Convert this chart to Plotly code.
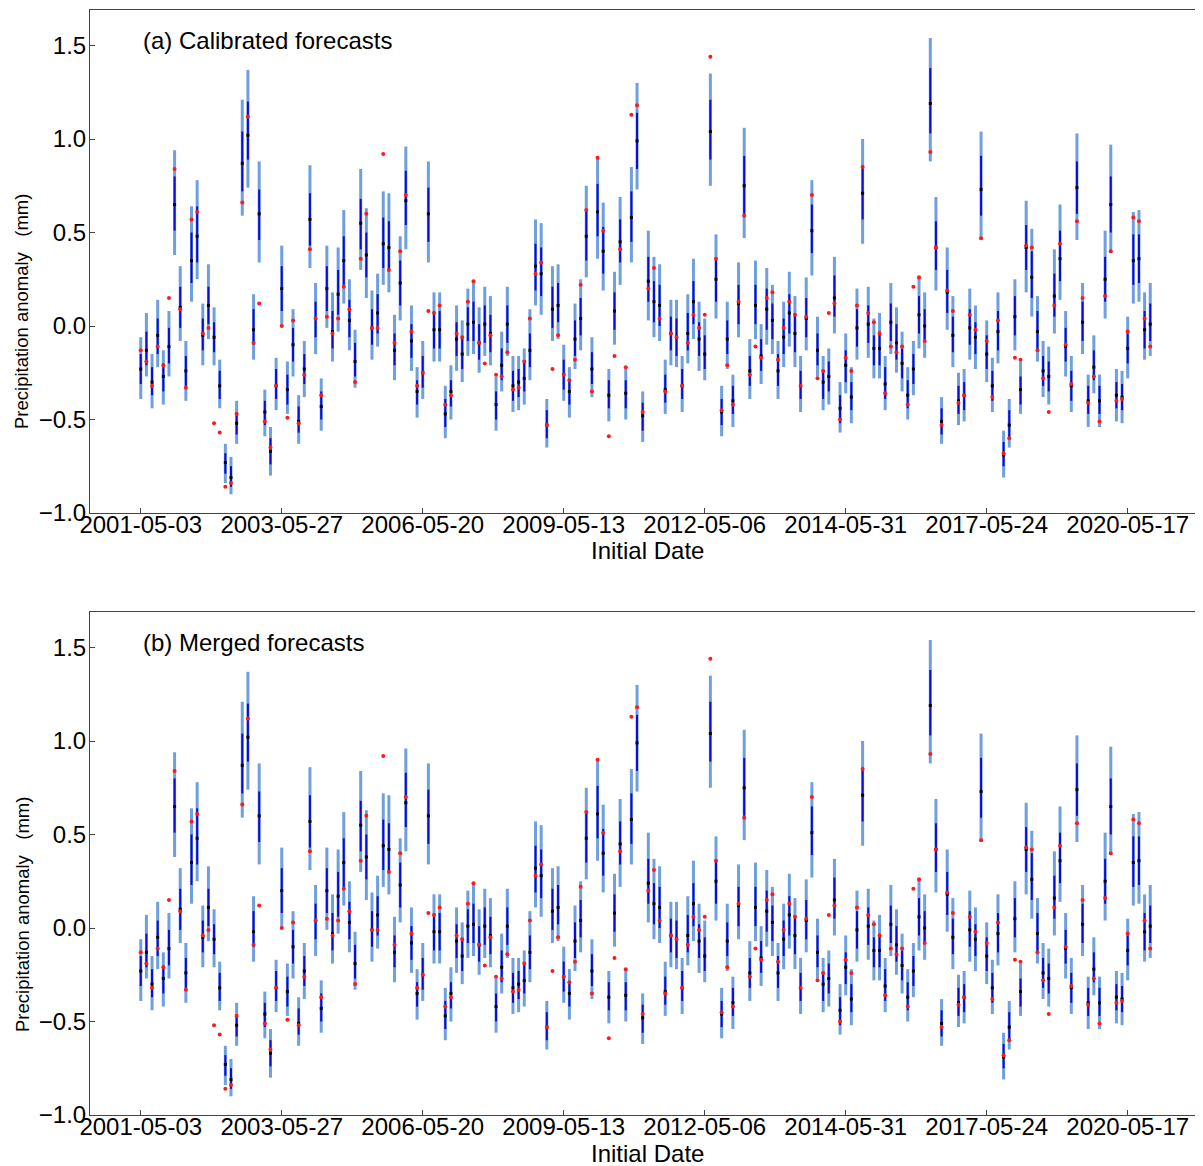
import plotly.graph_objects as go

# ---------------- data ----------------
years = list(range(2001, 2021))
month_days = ["05-03", "05-06", "05-10", "05-13", "05-17", "05-20", "05-24", "05-27", "05-31"]
tick_labels = ["2001-05-03", "2003-05-27", "2006-05-20", "2009-05-13",
               "2012-05-06", "2014-05-31", "2017-05-24", "2020-05-17"]

outer_high = [
    -0.06, 0.07, -0.15, 0.14, -0.13, 0.08, 0.94, 0.32, -0.08, 0.64,
    0.78, 0.12, 0.33, 0.10, -0.18, -0.63, -0.70, -0.40, 1.21, 1.37,
    0.17, 0.88, -0.34, -0.54, -0.17, 0.43, -0.19, 0.09, -0.37, -0.08,
    0.86, 0.23, -0.28, 0.43, 0.18, 0.42, 0.62, 0.25, -0.02, 0.84,
    0.63, 0.19, 0.28, 0.72, 0.71, 0.06, 0.48, 0.96, 0.11, -0.22,
    -0.08, 0.88, 0.18, 0.18, -0.32, -0.21, 0.11, 0.03, 0.20, 0.24,
    0.10, 0.21, 0.16, -0.27, -0.03, 0.21, -0.16, -0.16, -0.12, 0.09,
    0.57, 0.55, -0.39, 0.32, 0.33, -0.10, -0.22, 0.12, 0.25, 0.75,
    -0.06, 0.90, 0.66, -0.23, 0.29, 0.69, -0.22, 0.85, 1.30, -0.35,
    0.51, 0.37, 0.33, -0.18, 0.14, 0.14, -0.16, 0.17, 0.36, 0.13,
    0.04, 1.35, 0.49, -0.32, 0.13, -0.26, 0.34, 1.06, -0.07, 0.35,
    0.01, 0.31, 0.22, -0.08, 0.13, 0.29, 0.16, -0.16, 0.26, 0.78,
    0.05, -0.16, -0.12, 0.37, -0.30, -0.04, -0.22, 0.20, 1.00, 0.21,
    0.04, 0.07, -0.16, 0.23, 0.10, -0.03, -0.22, -0.08, 0.27, 0.18,
    1.54, 0.69, -0.38, 0.42, 0.16, -0.25, -0.23, 0.20, 0.11, 1.04,
    0.03, -0.17, 0.18, -0.56, -0.39, 0.25, -0.19, 0.67, 0.52, 0.16,
    -0.08, -0.11, 0.41, 0.65, 0.08, -0.16, 1.03, 0.23, -0.26, -0.05,
    -0.26, 0.51, 0.97, -0.23, -0.24, 0.05, 0.61, 0.62, 0.18, 0.23,
]

inner_high = [
    -0.15, -0.03, -0.22, 0.04, -0.20, -0.01, 0.80, 0.21, -0.16, 0.50,
    0.64, 0.04, 0.21, 0.02, -0.24, -0.68, -0.75, -0.46, 1.04, 1.20,
    0.09, 0.73, -0.40, -0.60, -0.23, 0.32, -0.26, -0.01, -0.43, -0.15,
    0.71, 0.13, -0.35, 0.32, 0.08, 0.30, 0.48, 0.14, -0.09, 0.68,
    0.50, 0.09, 0.17, 0.58, 0.56, -0.04, 0.35, 0.83, 0.01, -0.29,
    -0.16, 0.74, 0.08, 0.08, -0.39, -0.29, 0.02, -0.06, 0.10, 0.13,
    0.01, 0.11, 0.06, -0.35, -0.12, 0.11, -0.24, -0.23, -0.19, -0.04,
    0.44, 0.42, -0.45, 0.21, 0.23, -0.18, -0.29, 0.03, 0.15, 0.62,
    -0.14, 0.76, 0.53, -0.29, 0.18, 0.57, -0.29, 0.72, 1.14, -0.41,
    0.37, 0.24, 0.22, -0.26, 0.05, 0.04, -0.23, 0.07, 0.24, 0.02,
    -0.05, 1.21, 0.36, -0.39, 0.03, -0.32, 0.22, 0.91, -0.16, 0.22,
    -0.07, 0.20, 0.12, -0.15, 0.04, 0.17, 0.06, -0.24, 0.15, 0.65,
    -0.04, -0.24, -0.19, 0.27, -0.37, -0.13, -0.30, 0.09, 0.86, 0.11,
    -0.05, -0.03, -0.22, 0.12, 0.01, -0.12, -0.29, -0.15, 0.16, 0.09,
    1.38, 0.56, -0.44, 0.30, 0.05, -0.32, -0.30, 0.09, 0.02, 0.91,
    -0.05, -0.24, 0.08, -0.62, -0.45, 0.16, -0.27, 0.54, 0.40, 0.08,
    -0.16, -0.19, 0.28, 0.51, -0.01, -0.24, 0.88, 0.13, -0.32, -0.13,
    -0.32, 0.37, 0.80, -0.30, -0.31, -0.04, 0.49, 0.49, 0.08, 0.12,
]

median = [
    -0.23, -0.13, -0.30, -0.05, -0.27, -0.11, 0.65, 0.10, -0.24, 0.35,
    0.48, -0.05, 0.11, -0.06, -0.32, -0.73, -0.81, -0.52, 0.87, 1.02,
    -0.02, 0.60, -0.46, -0.67, -0.32, 0.20, -0.34, -0.10, -0.51, -0.23,
    0.57, 0.04, -0.43, 0.20, -0.03, 0.17, 0.35, 0.03, -0.19, 0.55,
    0.38, -0.01, 0.07, 0.44, 0.42, -0.13, 0.23, 0.67, -0.08, -0.35,
    -0.25, 0.60, -0.02, -0.02, -0.47, -0.35, -0.07, -0.15, 0.01, 0.02,
    -0.09, 0.01, -0.04, -0.42, -0.21, 0.01, -0.32, -0.30, -0.28, -0.13,
    0.32, 0.28, -0.53, 0.09, 0.11, -0.26, -0.35, -0.07, 0.04, 0.48,
    -0.23, 0.61, 0.40, -0.37, 0.08, 0.45, -0.36, 0.58, 0.99, -0.48,
    0.24, 0.13, 0.11, -0.34, -0.04, -0.06, -0.32, -0.04, 0.13, -0.07,
    -0.15, 1.04, 0.25, -0.46, -0.07, -0.40, 0.12, 0.75, -0.24, 0.11,
    -0.16, 0.09, 0.03, -0.24, -0.06, 0.07, -0.04, -0.32, 0.04, 0.51,
    -0.13, -0.30, -0.27, 0.15, -0.44, -0.21, -0.38, -0.01, 0.71, 0.01,
    -0.12, -0.12, -0.31, 0.02, -0.09, -0.20, -0.37, -0.23, 0.06, 0.00,
    1.19, 0.42, -0.51, 0.18, -0.05, -0.40, -0.37, -0.01, -0.06, 0.73,
    -0.15, -0.32, -0.03, -0.69, -0.53, 0.05, -0.34, 0.42, 0.26, -0.03,
    -0.24, -0.27, 0.16, 0.36, -0.11, -0.32, 0.74, 0.02, -0.40, -0.22,
    -0.40, 0.25, 0.65, -0.37, -0.38, -0.12, 0.35, 0.36, -0.02, 0.01,
]

inner_low = [
    -0.31, -0.21, -0.37, -0.15, -0.35, -0.20, 0.51, -0.01, -0.32, 0.23,
    0.34, -0.13, 0.01, -0.14, -0.39, -0.79, -0.86, -0.58, 0.72, 0.89,
    -0.10, 0.46, -0.53, -0.74, -0.39, 0.08, -0.42, -0.19, -0.57, -0.31,
    0.43, -0.06, -0.50, 0.08, -0.12, 0.06, 0.22, -0.06, -0.27, 0.41,
    0.26, -0.10, -0.04, 0.31, 0.30, -0.21, 0.11, 0.54, -0.17, -0.42,
    -0.33, 0.45, -0.12, -0.12, -0.54, -0.43, -0.16, -0.23, -0.08, -0.08,
    -0.18, -0.09, -0.14, -0.50, -0.29, -0.09, -0.40, -0.38, -0.35, -0.22,
    0.19, 0.16, -0.60, -0.01, 0.02, -0.34, -0.42, -0.16, -0.05, 0.35,
    -0.31, 0.48, 0.28, -0.44, -0.02, 0.34, -0.44, 0.45, 0.84, -0.56,
    0.13, 0.02, 0.00, -0.41, -0.13, -0.16, -0.39, -0.13, 0.01, -0.16,
    -0.23, 0.89, 0.13, -0.53, -0.15, -0.47, 0.01, 0.60, -0.32, 0.01,
    -0.24, -0.02, -0.07, -0.32, -0.15, -0.04, -0.14, -0.39, -0.06, 0.39,
    -0.21, -0.39, -0.35, 0.05, -0.52, -0.30, -0.45, -0.11, 0.57, -0.09,
    -0.21, -0.21, -0.39, -0.08, -0.18, -0.28, -0.44, -0.31, -0.04, -0.08,
    1.03, 0.30, -0.58, 0.07, -0.14, -0.47, -0.45, -0.10, -0.15, 0.59,
    -0.23, -0.40, -0.13, -0.75, -0.60, -0.05, -0.42, 0.30, 0.15, -0.13,
    -0.32, -0.35, 0.05, 0.24, -0.19, -0.40, 0.60, -0.08, -0.47, -0.29,
    -0.47, 0.13, 0.50, -0.44, -0.45, -0.20, 0.22, 0.23, -0.12, -0.08,
]

outer_low = [
    -0.39, -0.27, -0.44, -0.22, -0.42, -0.27, 0.38, -0.08, -0.40, 0.13,
    0.25, -0.21, -0.07, -0.21, -0.44, -0.84, -0.90, -0.63, 0.59, 0.74,
    -0.18, 0.34, -0.59, -0.80, -0.45, 0.00, -0.47, -0.27, -0.63, -0.38,
    0.31, -0.15, -0.56, -0.01, -0.19, -0.03, 0.12, -0.13, -0.33, 0.30,
    0.15, -0.18, -0.11, 0.22, 0.18, -0.29, 0.03, 0.41, -0.24, -0.49,
    -0.39, 0.34, -0.19, -0.19, -0.60, -0.50, -0.24, -0.30, -0.16, -0.15,
    -0.25, -0.16, -0.21, -0.56, -0.35, -0.16, -0.46, -0.45, -0.42, -0.29,
    0.11, 0.06, -0.65, -0.08, -0.07, -0.40, -0.49, -0.23, -0.13, 0.26,
    -0.38, 0.36, 0.19, -0.51, -0.10, 0.22, -0.50, 0.34, 0.73, -0.62,
    0.03, -0.06, -0.08, -0.47, -0.21, -0.22, -0.46, -0.20, -0.07, -0.24,
    -0.29, 0.75, 0.04, -0.59, -0.23, -0.54, -0.06, 0.47, -0.39, -0.07,
    -0.31, -0.10, -0.15, -0.39, -0.22, -0.11, -0.22, -0.46, -0.13, 0.27,
    -0.27, -0.45, -0.42, -0.04, -0.57, -0.36, -0.52, -0.18, 0.44, -0.17,
    -0.28, -0.28, -0.45, -0.15, -0.25, -0.35, -0.50, -0.37, -0.12, -0.17,
    0.88, 0.19, -0.63, -0.02, -0.22, -0.53, -0.51, -0.18, -0.23, 0.46,
    -0.30, -0.46, -0.20, -0.81, -0.65, -0.13, -0.47, 0.18, 0.05, -0.19,
    -0.38, -0.42, -0.04, 0.14, -0.27, -0.46, 0.46, -0.15, -0.54, -0.36,
    -0.54, 0.04, 0.39, -0.51, -0.52, -0.28, 0.12, 0.13, -0.18, -0.16,
]

observed = [
    -0.13, -0.19, -0.32, -0.11, -0.21, 0.15, 0.84, 0.09, -0.33, 0.57,
    0.61, -0.04, -0.01, -0.52, -0.57, -0.86, -0.84, -0.47, 0.66, 1.12,
    -0.09, 0.12, -0.51, -0.65, -0.32, 0.00, -0.49, 0.03, -0.52, -0.26,
    0.41, 0.04, -0.37, 0.05, -0.04, 0.04, 0.21, 0.09, -0.30, 0.36,
    0.60, -0.01, -0.01, 0.92, 0.30, -0.09, 0.40, 0.70, -0.03, -0.32,
    -0.25, 0.08, 0.07, 0.11, -0.42, -0.37, -0.04, -0.06, 0.13, 0.24,
    -0.09, -0.20, -0.05, -0.26, -0.27, -0.14, -0.34, -0.33, -0.19, 0.04,
    0.28, 0.34, -0.53, -0.23, -0.05, -0.26, -0.29, -0.18, 0.22, 0.62,
    -0.35, 0.90, 0.51, -0.59, -0.16, 0.41, -0.22, 1.13, 1.18, -0.46,
    0.20, 0.31, 0.04, -0.35, -0.04, -0.06, -0.32, -0.09, 0.06, -0.01,
    0.06, 1.44, 0.36, -0.45, -0.21, -0.42, 0.13, 0.59, -0.26, -0.11,
    -0.17, 0.15, 0.18, -0.18, -0.01, 0.13, 0.06, -0.32, 0.05, 0.70,
    -0.28, -0.24, 0.07, 0.12, -0.50, -0.17, -0.24, 0.11, 0.85, 0.07,
    0.02, -0.04, -0.36, -0.11, -0.14, -0.11, -0.42, 0.21, 0.26, -0.08,
    0.93, 0.42, -0.53, 0.19, 0.08, -0.41, -0.37, 0.06, -0.02, 0.47,
    -0.08, -0.38, 0.03, -0.68, -0.60, -0.17, -0.18, 0.43, 0.42, -0.13,
    -0.28, -0.46, 0.11, 0.44, -0.10, -0.31, 0.56, 0.15, -0.41, -0.27,
    -0.51, 0.16, 0.40, -0.40, -0.39, -0.03, 0.58, 0.56, 0.04, -0.11,
]

panel_titles = ["(a) Calibrated forecasts", "(b) Merged forecasts"]
x_title = "Initial Date"
y_title = "Precipitation anomaly\u00a0\u00a0\u00a0(mm)"

# ---------------- build figure ----------------
dates = [f"{y}-{md}" for y in years for md in month_days]
xs = list(range(len(dates)))
tickvals = [dates.index(t) for t in tick_labels]

LIGHT = "#6f9fe0"
DARK = "#0a0adc"
FONT = "Liberation Sans, Arial, sans-serif"

# page body has an 8 px margin, so the figure is drawn 8 px smaller
W, H = 1195, 1158
M_L, M_R, M_T, M_B = 82, 2, 2, 51
PW, PH = W - M_L - M_R, H - M_T - M_B


def px_to_paper(fx, fy):
    """figure pixel position -> paper coordinates (paper spans the plot area)"""
    return (fx - M_L) / PW, 1 - (fy - M_T) / PH


def seg(lo, hi):
    x, y = [], []
    for i, (a, b) in enumerate(zip(lo, hi)):
        x += [i, i, None]
        y += [a, b, None]
    return x, y


fig = go.Figure()
for p in range(2):
    xa = "x" if p == 0 else "x2"
    ya = "y" if p == 0 else "y2"
    ox, oy = seg(outer_low, outer_high)
    ix, iy = seg(inner_low, inner_high)
    fig.add_trace(go.Scatter(x=ox, y=oy, mode="lines", line=dict(color=LIGHT, width=3),
                             xaxis=xa, yaxis=ya, hoverinfo="skip", showlegend=False))
    fig.add_trace(go.Scatter(x=ix, y=iy, mode="lines", line=dict(color=DARK, width=2),
                             xaxis=xa, yaxis=ya, hoverinfo="skip", showlegend=False))
    fig.add_trace(go.Scatter(x=xs, y=median, mode="markers",
                             marker=dict(color="black", size=3, symbol="square"),
                             xaxis=xa, yaxis=ya, showlegend=False))
    fig.add_trace(go.Scatter(x=xs, y=observed, mode="markers",
                             marker=dict(color="#ff1a1a", size=4),
                             xaxis=xa, yaxis=ya, showlegend=False))

dom_h = 503 / PH

axis_common = dict(
    showline=True, mirror=True, linecolor="#444", linewidth=1, automargin=False,
    showgrid=False, zeroline=False, ticks="inside", ticklen=5, tickcolor="#444",
    tickfont=dict(family=FONT, size=24, color="black"),
)
xcommon = dict(axis_common, range=[-9, 188], tickmode="array", tickvals=tickvals,
               ticktext=tick_labels, ticklabelstandoff=-10)
ycommon = dict(axis_common, range=[-1.0, 1.69], tickmode="array",
               tickvals=[-1.0, -0.5, 0.0, 0.5, 1.0, 1.5], tickformat=".1f",
               ticklabelstandoff=-2)

fig.update_layout(
    width=W, height=H,
    margin=dict(l=M_L, r=M_R, t=M_T, b=M_B),
    paper_bgcolor="white", plot_bgcolor="white",
    font=dict(family=FONT, color="black"),
    xaxis=dict(xcommon, domain=[0, 1], anchor="y"),
    yaxis=dict(ycommon, domain=[1 - dom_h, 1], anchor="x"),
    xaxis2=dict(xcommon, domain=[0, 1], anchor="y2"),
    yaxis2=dict(ycommon, domain=[0, dom_h], anchor="x2"),
    showlegend=False,
)

# panel labels
for p, title in enumerate(panel_titles):
    fig.add_annotation(
        text=title, xref="x domain" if p == 0 else "x2 domain",
        yref="y domain" if p == 0 else "y2 domain",
        x=0.0455, y=0.94, xanchor="left", yanchor="middle", showarrow=False,
        font=dict(family=FONT, size=24, color="black"),
    )

# axis titles (placed as in the reference)
for ty in (304, 907):
    ax_, ay_ = px_to_paper(14, ty)
    fig.add_annotation(text=y_title, xref="paper", yref="paper",
                       x=ax_, y=ay_, xanchor="center", yanchor="middle",
                       textangle=-90, showarrow=False,
                       font=dict(family=FONT, size=18.5, color="black"))
for ty in (542, 1145):
    ax_, ay_ = px_to_paper(639, ty)
    fig.add_annotation(text=x_title, xref="paper", yref="paper",
                       x=ax_, y=ay_, xanchor="center", yanchor="middle",
                       showarrow=False,
                       font=dict(family=FONT, size=24, color="black"))

fig.write_html("out.html")
